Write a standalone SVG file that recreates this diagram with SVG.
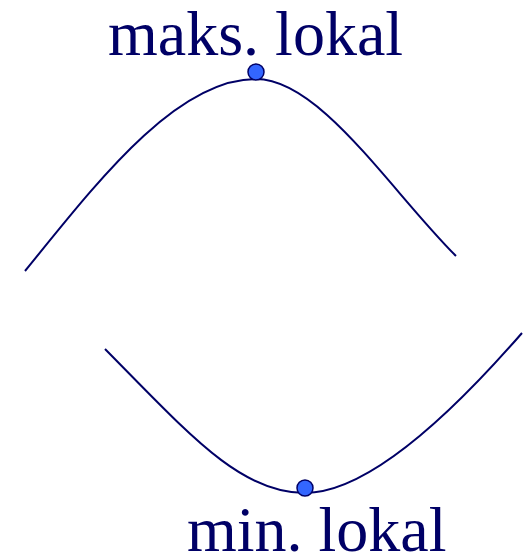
<svg xmlns="http://www.w3.org/2000/svg" width="525" height="556" viewBox="0 0 525 556">
<style>
.curve{fill:none;stroke:#000066;stroke-width:2}
.dot{fill:#3366ff;stroke:#000066;stroke-width:1.5}
.lbl{font-family:"Liberation Serif","Times New Roman",serif;font-size:64px;fill:#000066}
</style>
<rect width="525" height="556" fill="#ffffff"/>
<g id="connectors">
<path class="curve" d="M25,271 C95,185 175,79 256,79 C320,79 390,190 456,256"/>
<path class="curve" d="M105,349 C190,435 240,493 305,493 C370,493 455,410 522,333"/>
</g>
<g id="max">
<circle class="dot" cx="256" cy="72" r="8"/>
<text class="lbl" x="108" y="55">maks. lokal</text>
</g>
<g id="min">
<circle class="dot" cx="305" cy="488" r="8"/>
<text class="lbl" x="187" y="551">min. lokal</text>
</g>
</svg>
